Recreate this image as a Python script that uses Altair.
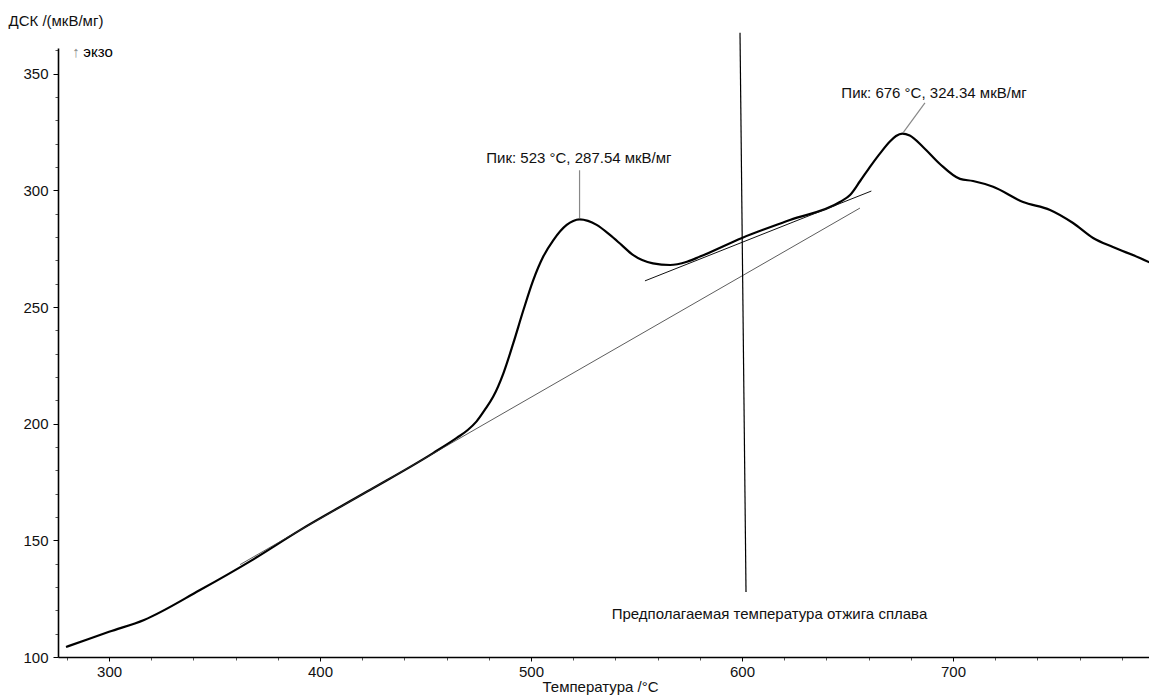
import altair as alt
import pandas as pd

# DSC curve (temperature °C, signal µV/mg)
curve_t = [279.6, 290.0, 300.0, 316.6, 343.1, 366.8, 390.5, 422.3, 453.6, 464.8,
           470.0, 474.2, 478.0, 482.1, 486.9, 491.6, 496.4, 501.1, 505.8, 510.6,
           516.9, 520.0, 523.0, 527.0, 531.1, 537.4, 543.0, 548.3, 557.8, 565.9,
           573.9, 580.1, 600.0, 622.7, 646.4, 651.2, 656.0, 661.0, 666.0, 670.1,
           673.0, 676.0, 679.5, 685.8, 693.8, 703.3, 709.5, 719.0, 733.2, 746.0,
           756.9, 766.4, 775.8, 788.6, 796.7]
curve_v = [104.3, 107.6, 110.8, 115.9, 128.7, 141.0, 154.4, 170.9, 187.4, 193.9,
           197.3, 201.0, 205.8, 211.6, 221.6, 234.5, 248.7, 261.6, 271.6, 278.7,
           285.2, 286.9, 287.54, 286.9, 285.2, 280.9, 276.5, 272.3, 268.7, 268.0,
           269.4, 271.6, 279.6, 287.3, 295.0, 298.0, 304.0, 310.5, 316.5, 320.9,
           323.3, 324.34, 323.5, 318.6, 311.3, 304.9, 304.0, 301.5, 295.0, 291.6,
           286.0, 279.6, 275.7, 271.0, 267.6]

# straight construction lines: baseline, tangent, vertical marker
line_t1 = [362.1, 554.0, 599.05]
line_v1 = [139.6, 261.2, 367.5]
line_t2 = [655.9, 661.3, 601.9]
line_v2 = [292.4, 299.7, 127.9]
line_w = [0.8, 1.0, 1.2]
line_c = ["#333333", "#111111", "#000000"]

# peak leader lines
lead_t1 = [523.0, 676.3]
lead_v1 = [288.0, 324.6]
lead_t2 = [523.0, 686.7]
lead_v2 = [308.6, 337.5]

# text annotations
ann_text = ["Пик: 523 °C, 287.54 мкВ/мг", "Пик: 676 °C, 324.34 мкВ/мг",
            "Предполагаемая температура отжига сплава"]
ann_t = [522.7, 691.0, 613.0]
ann_v = [313.9, 341.7, 118.4]

exo_text = ["↑", "экзо"]
exo_t = [282.6, 287.8]
exo_v = [359.3, 359.3]
exo_c = ["#888888", "#000000"]

x_ticks = list(range(280, 790, 20))
y_ticks = list(range(100, 370, 10))

FONT = "Liberation Sans"

curve_df = pd.DataFrame({"T": curve_t, "V": curve_v})
lines_df = pd.DataFrame({"T": line_t1, "V": line_v1, "T2": line_t2, "V2": line_v2,
                         "w": line_w, "c": line_c})
lead_df = pd.DataFrame({"T": lead_t1, "V": lead_v1, "T2": lead_t2, "V2": lead_v2})
ann_df = pd.DataFrame({"label": ann_text, "T": ann_t, "V": ann_v})
exo_df = pd.DataFrame({"label": exo_text, "T": exo_t, "V": exo_v, "c": exo_c})

xscale = alt.Scale(domain=[275.8, 792.9], nice=False, zero=False)
yscale = alt.Scale(domain=[100, 361], nice=False, zero=False)

xaxis = alt.Axis(
    title="Температура /°C", values=x_ticks,
    labelExpr="datum.value % 100 === 0 ? datum.label : ''",
    tickSize={"condition": {"test": "datum.value % 100 === 0", "value": 4}, "value": 3},
    tickColor={"condition": {"test": "datum.value % 100 === 0", "value": "#000000"}, "value": "#555555"},
    labelPadding=3, labelFontSize=15, labelFont=FONT, labelColor="#111111",
    titleFontSize=15, titleFont=FONT, titleFontWeight="normal", titleColor="#111111",
    titleX=542, titleY=34, titleAlign="center", titleBaseline="alphabetic",
    domainColor="#000000", domainWidth=1.6, grid=False, labelFlush=False,
)
yaxis = alt.Axis(
    title="ДСК /(мкВ/мг)", values=y_ticks,
    labelExpr="datum.value % 50 === 0 ? datum.label : ''",
    tickSize={"condition": {"test": "datum.value % 50 === 0", "value": 5}, "value": 3},
    tickColor={"condition": {"test": "datum.value % 50 === 0", "value": "#000000"}, "value": "#555555"},
    labelPadding=5, labelFontSize=15, labelFont=FONT, labelColor="#111111",
    titleFontSize=15, titleFont=FONT, titleFontWeight="normal", titleColor="#111111",
    titleAngle=0, titleX=-50, titleY=-28, titleAlign="left", titleBaseline="middle",
    domainColor="#000000", domainWidth=1.6, grid=False, labelFlush=False,
)

X = alt.X("T:Q", scale=xscale, axis=xaxis)
Y = alt.Y("V:Q", scale=yscale, axis=yaxis)

curve = alt.Chart(curve_df).mark_line(
    color="#000000", strokeWidth=2.2, interpolate="monotone", clip=True
).encode(x=X, y=Y)

lines = alt.Chart(lines_df).mark_rule().encode(
    x=X, y=Y, x2="T2:Q", y2="V2:Q",
    strokeWidth=alt.StrokeWidth("w:Q", scale=None),
    color=alt.Color("c:N", scale=None),
)

leads = alt.Chart(lead_df).mark_rule(color="#888888", strokeWidth=1.2).encode(
    x=X, y=Y, x2="T2:Q", y2="V2:Q"
)

ann = alt.Chart(ann_df).mark_text(
    font=FONT, fontSize=15, color="#111111", align="center", baseline="middle"
).encode(x=X, y=Y, text="label:N")

exo = alt.Chart(exo_df).mark_text(
    font=FONT, fontSize=15, align="left", baseline="middle"
).encode(x=X, y=Y, text="label:N", color=alt.Color("c:N", scale=None))

chart = alt.layer(curve, lines, leads, ann, exo).properties(
    width=1091, height=609,
    padding={"left": 50, "top": 40, "right": 0, "bottom": 38},
    autosize=alt.AutoSizeParams(type="none"),
    view=alt.ViewBackground(stroke="transparent", strokeWidth=0),
).configure(
    background="#ffffff",
    view=alt.ViewConfig(stroke="transparent", strokeWidth=0),
    axis=alt.AxisConfig(grid=False),
    style={"cell": {"stroke": "transparent", "strokeWidth": 0}},
)

chart.save("out.html", embed_options={"renderer": "svg", "actions": False})
